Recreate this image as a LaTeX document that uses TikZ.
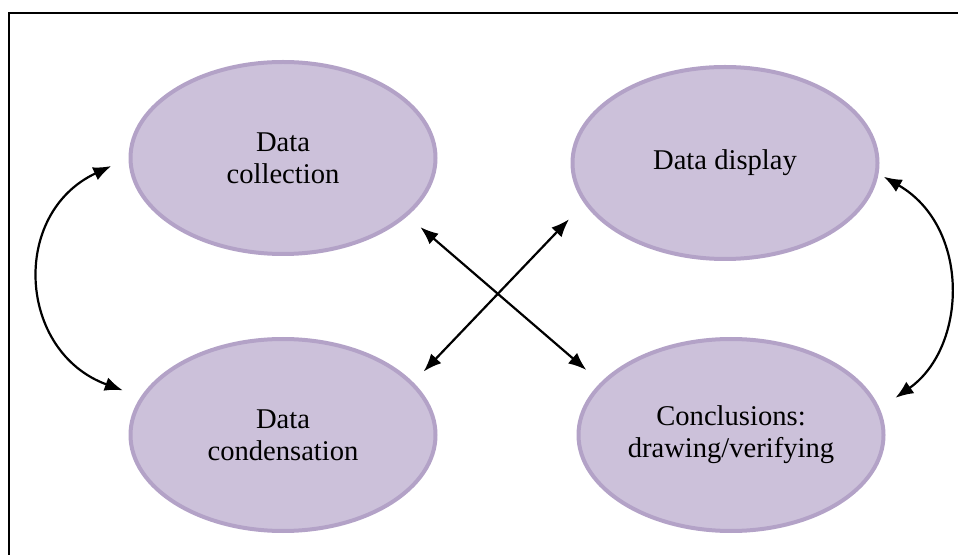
\documentclass[tikz,border=0pt]{standalone}
\usepackage{fontspec}
\setmainfont{Liberation Serif}
\usetikzlibrary{arrows.meta,positioning,shapes.geometric}
\definecolor{lavfill}{HTML}{CCC1DA}
\definecolor{lavline}{HTML}{B3A2C7}

\begin{document}
\begin{tikzpicture}[x=0.5pt, y=0.5pt,
blob/.style = {ellipse, draw=lavline, fill=lavfill, line width=2pt, minimum width=152.5pt, minimum height=96pt, inner sep=0pt, align=center, font=\fontsize{14.3}{16}\selectfont},
link/.style = {<->, line width=1.1pt},
frame/.style = {line width=1pt},
>={Latex[length=9pt,width=7pt]}
]
\useasboundingbox (0,0) rectangle (958,-555);
\draw [frame] (9,-560) -- (9,-13) -- (965,-13);

    \node [blob] (collection) at (283,-158) {Data\\collection};
    \node [blob, right of=collection, node distance=221pt, yshift=-2.5pt] (display) {Data display};
    \node [blob, below of=collection, node distance=138.5pt] (condensation) {Data\\condensation};
    \node [blob, right of=condensation, node distance=224pt] (conclusions) {Conclusions:\\drawing/verifying};

    % the cross
    \draw [link, shorten <=8.5pt, shorten >=9.5pt] (collection.-25.6) -- (conclusions.158);
    \draw [link, shorten <=7.5pt, shorten >=11pt] (condensation.22) -- (display.196);

    % the two bows
    \draw [link, shorten <=9.5pt, shorten >=9.5pt] (collection.180) to [out=205, in=160, looseness=1.4] (condensation.165);
    \draw [link, shorten <=3pt, shorten >=9.5pt] (display.-4) to [out=-30, in=35, looseness=1.16] (conclusions.10);

\end{tikzpicture}
\end{document}
